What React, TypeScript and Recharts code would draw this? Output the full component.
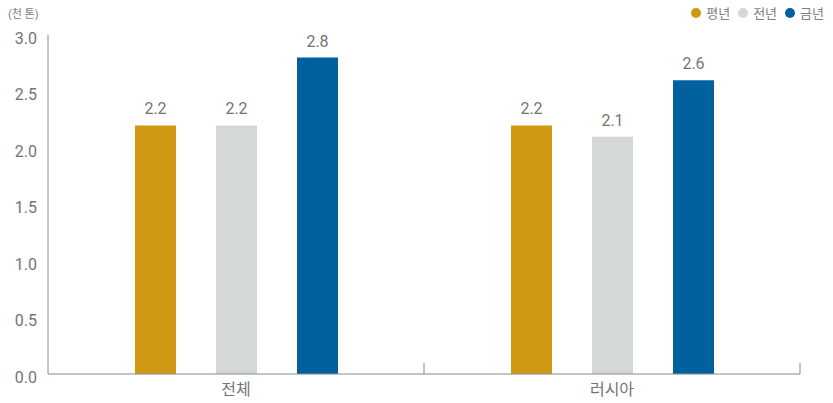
import { BarChart, Bar, XAxis, YAxis, LabelList, ReferenceLine } from 'recharts';

const categories = ['전체', '러시아'];
const normalYear = [2.2, 2.2];
const lastYear = [2.2, 2.1];
const thisYear = [2.8, 2.6];
const yTicks = [0, 0.5, 1.0, 1.5, 2.0, 2.5, 3.0];

const series = [
  { key: 'normal', name: '평년', color: '#CF9913' },
  { key: 'last', name: '전년', color: '#D5D8D8' },
  { key: 'current', name: '금년', color: '#00619E' },
];

const data = categories.map((c, i) => ({
  name: c,
  idx: i + 0.5,
  normal: normalYear[i],
  last: lastYear[i],
  current: thisYear[i],
}));

const FONT = "Roboto, 'Noto Sans CJK KR', sans-serif";
const AXIS = '#8a8a8a';
const TEXT = '#747474';

export default function App() {
  return (
    <div style={{ position: 'absolute', left: 0, top: 0, width: 833, height: 403, background: '#fff', fontFamily: FONT }}>
      <div style={{ position: 'absolute', left: 8, top: 5, fontSize: 11, color: '#808080' }}>(천 톤)</div>
      <div style={{ position: 'absolute', right: 9, top: 3, display: 'flex', alignItems: 'center', fontSize: 13, color: '#808080' }}>
        {series.map((s) => (
          <div key={s.key} style={{ display: 'flex', alignItems: 'center', marginLeft: 8 }}>
            <span style={{ display: 'inline-block', width: 10, height: 10, borderRadius: 5, background: s.color, marginRight: 5 }} />
            <span>{s.name}</span>
          </div>
        ))}
      </div>
      <BarChart
        width={833}
        height={403}
        data={data}
        margin={{ top: 35, right: 33, bottom: 0, left: 0 }}
        barSize={41}
        barGap={40}
      >
        <XAxis
          dataKey="name"
          height={29}
          stroke={AXIS}
          tickLine={false}
          tick={{ fill: TEXT, fontSize: 16, fontFamily: FONT }}
          tickMargin={4}
        />
        <XAxis xAxisId="b" type="number" dataKey="idx" domain={[0, 2]} hide />
        <YAxis
          domain={[0, 3]}
          ticks={yTicks}
          width={48}
          stroke={AXIS}
          tickLine={false}
          tickMargin={5}
          tickFormatter={(v: number) => v.toFixed(1)}
          tick={{ fill: TEXT, fontSize: 16, fontFamily: FONT, dy: 3 }}
        />
        {[1, 2].map((x) => (
          <ReferenceLine
            key={x}
            xAxisId="b"
            segment={[{ x, y: 0 }, { x, y: 0.1 }]}
            stroke={AXIS}
            strokeWidth={1}
          />
        ))}
        {series.map((s) => (
          <Bar key={s.key} dataKey={s.key} name={s.name} fill={s.color} isAnimationActive={false}>
            <LabelList
              dataKey={s.key}
              position="top"
              offset={11}
              formatter={(v: number) => v.toFixed(1)}
              style={{ fill: TEXT, fontSize: 16, fontFamily: FONT }}
            />
          </Bar>
        ))}
      </BarChart>
    </div>
  );
}
